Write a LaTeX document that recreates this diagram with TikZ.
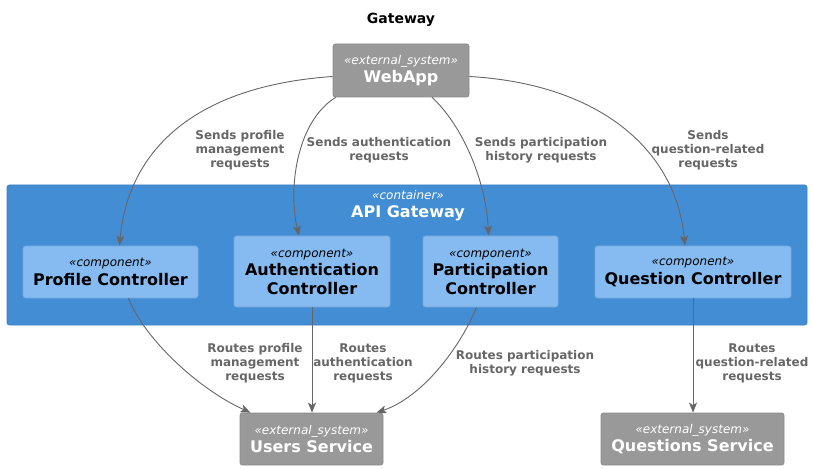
\documentclass[tikz,border=0pt]{standalone}
\usepackage{fontspec}
\setmainfont{DejaVu Sans}
\usetikzlibrary{arrows.meta,positioning}

\definecolor{extgray}{HTML}{999999}
\definecolor{extborder}{HTML}{8A8A8A}
\definecolor{contblue}{HTML}{438DD5}
\definecolor{contborder}{HTML}{3C7FC0}
\definecolor{compblue}{HTML}{85BBF0}
\definecolor{compborder}{HTML}{78A8D8}
\definecolor{relgray}{HTML}{666666}

\newcommand{\stereo}[1]{{\fontsize{12}{14}\selectfont\mdseries\itshape «#1»}}

\begin{document}
\begin{tikzpicture}[x=1pt, y=-1pt,
        box/.style={rectangle, rounded corners=2.5pt, align=center, inner sep=0pt, line width=0.8pt,
                font=\fontsize{16}{18.5}\selectfont\bfseries},
        ext/.style={box, fill=extgray, draw=extborder, text=white},
        comp/.style={box, fill=compblue, draw=compborder, text=black},
        rel/.style={draw=relgray, line width=0.9pt, -{Stealth[length=10pt, width=8pt, inset=2.5pt]}},
        rellabel/.style={text=relgray, align=center, font=\fontsize{12}{14}\selectfont\bfseries}]
        \useasboundingbox (0,0) rectangle (813,470);

        \node (title) at (401,19.5) {\fontsize{14}{16}\selectfont\bfseries Gateway};

        % external systems
        \node[ext, minimum width=136pt, minimum height=53pt] (web) at (401,70.5)
                {\stereo{external\_system}\\WebApp};
        \node[ext, minimum width=143pt, minimum height=52pt] (users) at (311.5,439)
                {\stereo{external\_system}\\Users Service};
        \node[ext, minimum width=183pt, minimum height=52pt] (questions) at (692.5,439)
                {\stereo{external\_system}\\Questions Service};

        % container and its components
        \node[box, fill=contblue, draw=contborder, minimum width=800pt, minimum height=140pt] (gateway) at (407,255) {};
        \node[text=white, align=center, font=\fontsize{16}{18}\selectfont\bfseries] (gwname) at (408,205.5)
                {\stereo{container}\\API Gateway};

        \node[comp, minimum width=175pt, minimum height=52pt] (prof) at (110.5,272)
                {\stereo{component}\\Profile Controller};
        \node[comp, minimum width=156pt, minimum height=71pt] (auth) at (312,271.5)
                {\stereo{component}\\Authentication\\Controller};
        \node[comp, minimum width=135pt, minimum height=71pt] (part) at (490.5,271.5)
                {\stereo{component}\\Participation\\Controller};
        \node[comp, minimum width=196pt, minimum height=52pt] (quest) at (693,272)
                {\stereo{component}\\Question Controller};

        % requests from the web app
        \draw[rel] ([yshift=-6pt]web.west) .. controls (195,86) and (128,150) .. ([xshift=9pt]prof.north);
        \draw[rel] ([xshift=3pt]web.south west) .. controls (296,122) and (288,190) .. ([xshift=-13pt]auth.north);
        \draw[rel] ([xshift=31pt]web.south) .. controls (462,125) and (486,180) .. ([xshift=-2pt]part.north);
        \draw[rel] ([yshift=-6pt]web.east) .. controls (600,84) and (676,150) .. ([xshift=-8pt]quest.north);

        % routed to the services
        \draw[rel] ([xshift=18pt]prof.south) .. controls (145,340) and (200,390) .. ([xshift=-61pt]users.north);
        \draw[rel] (auth.south) -- (auth.south |- users.north);
        \draw[rel] ([xshift=-14pt]part.south) .. controls (458,352) and (420,398) .. ([xshift=65pt]users.north);
        \draw[rel] (quest.south) -- (quest.south |- questions.north);

        \node[rellabel] (l1) at (240,150) {Sends profile\\management\\requests};
        \node[rellabel] (l2) at (379,150) {Sends authentication\\requests};
        \node[rellabel] (l3) at (541,150) {Sends participation\\history requests};
        \node[rellabel] (l4) at (708,150) {Sends\\question-related\\requests};
        \node[rellabel] (l5) at (255,363) {Routes profile\\management\\requests};
        \node[rellabel] (l6) at (363,363) {Routes\\authentication\\requests};
        \node[rellabel] (l7) at (525,363) {Routes participation\\history requests};
        \node[rellabel] (l8) at (752,363) {Routes\\question-related\\requests};
\end{tikzpicture}
\end{document}
